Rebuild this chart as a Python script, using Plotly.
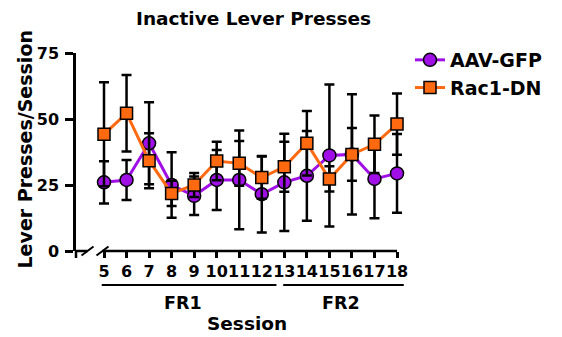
import plotly.graph_objects as go

# ---------------- data ----------------
sessions = list(range(5, 19))
gfp_mean = [26.0, 26.9, 40.8, 25.0, 20.9, 26.9, 26.9, 21.5, 26.0, 28.5, 36.2, 36.6, 27.3, 29.4]
gfp_sem = [8.0, 7.6, 15.5, 12.4, 7.3, 11.4, 18.7, 14.5, 18.4, 17.0, 26.9, 22.8, 14.9, 14.9]
rac_mean = [44.2, 52.2, 34.2, 21.8, 25.0, 34.1, 33.2, 27.8, 31.9, 40.8, 27.3, 36.6, 40.4, 48.1]
rac_sem = [19.7, 14.5, 10.4, 4.8, 4.5, 7.3, 8.5, 8.0, 9.5, 12.2, 4.8, 10.0, 10.9, 11.6]
y_ticks = [0, 25, 50, 75]
group_names = ["FR1", "FR2"]
group_spans = [(5, 12), (13, 18)]

# ---------------- layout geometry ----------------
W, H = 562, 337
L, R, T, B = 76, 152, 53, 86
plot_w = W - L - R
plot_h = H - T - B
px_per_session = 22.54
x0 = 5 - (104 - L) / px_per_session
x1 = x0 + plot_w / px_per_session


def px_x(p):
    return (p - L) / plot_w


def px_y(p):
    return (T + plot_h - p) / plot_h


def sess_x(s):
    return (s - x0) / (x1 - x0)


FONT = "DejaVu Sans"
PURPLE = "#A010E6"
ORANGE = "#FF6A10"
AX = 2.5

fig = go.Figure()
fig.add_trace(go.Scatter(
    x=sessions, y=gfp_mean, name="AAV-GFP", mode="lines+markers",
    line=dict(color=PURPLE, width=3),
    marker=dict(symbol="circle", size=13, color=PURPLE, line=dict(color="black", width=1.5)),
    error_y=dict(type="data", array=gfp_sem, color="black", thickness=2.5, width=5),
    cliponaxis=False,
))
fig.add_trace(go.Scatter(
    x=sessions, y=rac_mean, name="Rac1-DN", mode="lines+markers",
    line=dict(color=ORANGE, width=3),
    marker=dict(symbol="square", size=12, color=ORANGE, line=dict(color="black", width=1.5)),
    error_y=dict(type="data", array=rac_sem, color="black", thickness=2.5, width=5),
    cliponaxis=False,
))

shapes = []
line_style = dict(color="black", width=AX)
# broken x-axis
shapes.append(dict(type="line", xref="paper", yref="paper", x0=0, x1=px_x(87.5), y0=0, y1=0, line=line_style))
shapes.append(dict(type="line", xref="paper", yref="paper", x0=px_x(102.5), x1=sess_x(18), y0=0, y1=0, line=line_style))
for cx in (87.5, 102.5):
    shapes.append(dict(type="line", xref="paper", yref="paper",
                       x0=px_x(cx - 6), x1=px_x(cx + 6), y0=px_y(T + plot_h + 4.5), y1=px_y(T + plot_h - 4.5),
                       line=dict(color="black", width=2)))
# tick at the y-axis origin
shapes.append(dict(type="line", xref="paper", yref="paper", x0=0, x1=0,
                   y0=0, y1=px_y(T + plot_h + 7), line=line_style))
# group underlines
pads = [(-0.1, 0.65), (-0.05, 0.3)]
for (a, b), (pa, pb) in zip(group_spans, pads):
    shapes.append(dict(type="line", xref="paper", yref="paper",
                       x0=sess_x(a + pa), x1=sess_x(b + pb), y0=px_y(285), y1=px_y(285),
                       line=dict(color="black", width=2)))

annotations = []
for name, (a, b) in zip(group_names, group_spans):
    annotations.append(dict(text=name, xref="paper", yref="paper", x=sess_x((a + b) / 2), y=px_y(303),
                            showarrow=False, xanchor="center", yanchor="middle",
                            font=dict(family=FONT, size=17.5, color="black", weight="bold")))
annotations.append(dict(text="Session", xref="paper", yref="paper", x=px_x(247), y=px_y(323),
                        showarrow=False, xanchor="center", yanchor="middle",
                        font=dict(family=FONT, size=18.5, color="black", weight="bold")))
annotations.append(dict(text="Inactive Lever Presses", xref="paper", yref="paper", x=px_x(253.5), y=px_y(18),
                        showarrow=False, xanchor="center", yanchor="middle",
                        font=dict(family=FONT, size=18.5, color="black", weight="bold")))
annotations.append(dict(text="Lever Presses/Session", xref="paper", yref="paper", x=px_x(24.5), y=px_y(150),
                        showarrow=False, xanchor="center", yanchor="middle", textangle=-90,
                        font=dict(family=FONT, size=19, color="black", weight="bold")))

fig.update_layout(
    width=W, height=H,
    margin=dict(l=L, r=R, t=T, b=B, pad=0),
    paper_bgcolor="white", plot_bgcolor="white",
    showlegend=True,
    legend=dict(x=px_x(410), y=px_y(41), xanchor="left", yanchor="top",
                font=dict(family=FONT, size=19, color="black", weight="bold"),
                bgcolor="rgba(0,0,0,0)", borderwidth=0, tracegroupgap=0),
    xaxis=dict(range=[x0, x1], tickvals=sessions, ticktext=[str(s) for s in sessions],
               tickangle=0,
               ticks="outside", ticklen=6, tickwidth=AX, tickcolor="black",
               showline=False, showgrid=False, zeroline=False,
               tickfont=dict(family=FONT, size=16, color="black", weight="bold")),
    yaxis=dict(range=[0, 75], tickvals=y_ticks, ticks="outside", ticklen=8, tickwidth=AX,
               tickcolor="black", showline=True, linewidth=AX, linecolor="black",
               showgrid=False, zeroline=False, ticklabelstandoff=3,
               tickfont=dict(family=FONT, size=16, color="black", weight="bold")),
    shapes=shapes,
    annotations=annotations,
)

fig.write_html("out.html")
